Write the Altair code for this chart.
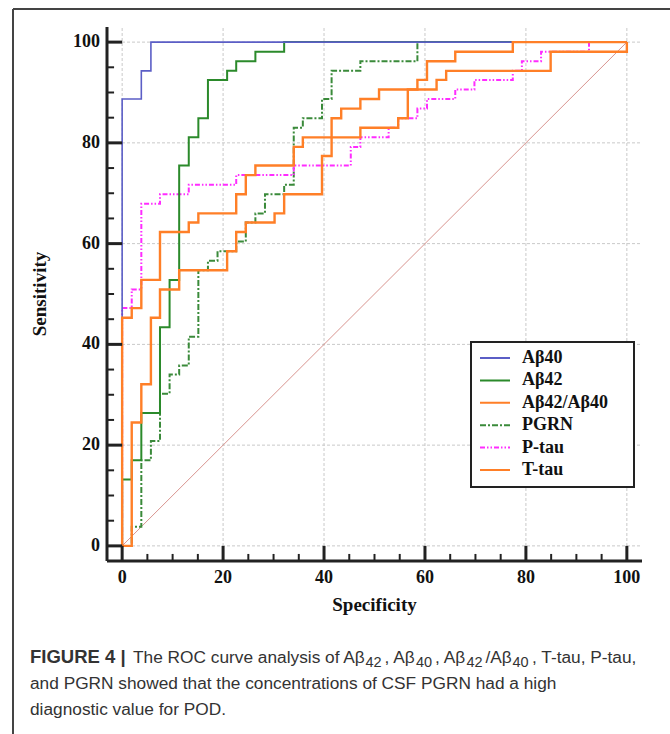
import altair as alt
import pandas as pd

# ---------------- data (corner points of the step ROC curves) ----------------
series_names = ["Aβ40", "Aβ42", "Aβ42/Aβ40", "PGRN", "P-tau", "T-tau"]
series_colors = ["#5b5ec6", "#2b8a2b", "#ff7f27", "#3a8a3a", "#ff2cff", "#ff7f27"]

ab40_spec = [0, 0, 3.8, 5.7, 100]
ab40_sens = [0, 88.7, 94.3, 100, 100]

ab42_spec = [0, 0, 1.9, 3.8, 7.5, 9.4, 11.3, 13.2, 15.1, 17.0, 20.8, 22.6, 26.4, 32.1, 100]
ab42_sens = [0, 13.2, 17.0, 26.4, 43.4, 52.8, 75.5, 81.1, 84.9, 92.5, 94.3, 96.2, 98.1, 100, 100]

ratio_spec = [0, 0, 1.9, 3.8, 7.5, 13.2, 15.1, 22.6, 24.5, 26.4, 34.0, 35.8, 47.2, 54.7,
              56.6, 62.3, 64.2, 84.9, 100]
ratio_sens = [0, 45.3, 47.2, 52.8, 62.3, 64.2, 66.0, 69.8, 73.6, 75.5, 79.2, 81.1, 83.0, 84.9,
              90.6, 92.5, 94.3, 98.1, 100]

pgrn_spec = [0, 1.9, 3.8, 5.7, 7.5, 9.4, 11.3, 13.2, 15.1, 17.0, 18.9, 22.6, 24.5, 26.4,
             28.3, 32.1, 34.0, 35.8, 39.6, 41.5, 47.2, 58.5, 100]
pgrn_sens = [0, 3.8, 17.0, 20.8, 30.2, 34.0, 35.8, 41.5, 54.7, 56.6, 58.5, 60.4, 64.2, 66.0,
             69.8, 71.7, 83.0, 84.9, 88.7, 94.3, 96.2, 100, 100]

ptau_spec = [0, 0, 1.9, 3.8, 7.5, 13.2, 22.6, 34.0, 45.3, 47.2, 52.8, 54.7, 58.5, 60.4,
             66.0, 69.8, 77.4, 79.2, 83.0, 92.5, 100]
ptau_sens = [0, 47.2, 50.9, 67.9, 69.8, 71.7, 73.6, 75.5, 79.2, 81.1, 83.0, 84.9, 86.8, 88.7,
             90.6, 92.5, 94.3, 96.2, 98.1, 100, 100]

ttau_spec = [0, 1.9, 3.8, 5.7, 7.5, 11.3, 20.8, 22.6, 24.5, 30.2, 32.1, 39.6, 41.5, 43.4,
             47.2, 50.9, 58.5, 60.4, 66.0, 77.4, 100]
ttau_sens = [0, 24.5, 32.1, 45.3, 50.9, 54.7, 58.5, 62.3, 64.2, 66.0, 69.8, 77.4, 84.9, 86.8,
             88.7, 90.6, 92.5, 96.2, 98.1, 100, 100]

diag_spec = [0, 100]
diag_sens = [0, 100]

major_ticks = [0, 20, 40, 60, 80, 100]
minor_ticks = [5, 10, 15, 25, 30, 35, 45, 50, 55, 65, 70, 75, 85, 90, 95]
tick_labels = ["0", "20", "40", "60", "80", "100"]

x_title = "Specificity"
y_title = "Sensitivity"

caption_bold = "FIGURE 4 |"
caption_l1_parts = ["The ROC curve analysis of Aβ", "42", ", Aβ", "40", ", Aβ", "42", "/Aβ", "40",
                    ", T-tau, P-tau,"]
caption_l1_is_sub = [False, True, False, True, False, True, False, True, False]
caption_line2 = "and PGRN showed that the concentrations of CSF PGRN had a high"
caption_line3 = "diagnostic value for POD."

# ---------------- helpers ----------------
SERIF = "Liberation Serif"
SANS = "Liberation Sans"
AX = "#222222"
xs = alt.Scale(domain=[-3, 103], nice=False, zero=False)
ys = alt.Scale(domain=[-3, 103], nice=False, zero=False)
one = pd.DataFrame({"a": [0]})


def frame(xv, yv):
    return pd.DataFrame({"x": xv, "y": yv, "i": list(range(len(xv)))})


def curve(xv, yv, color, width, dash=None):
    kw = dict(color=color, strokeWidth=width, interpolate="step-after", clip=False)
    if dash:
        kw["strokeDash"] = dash
    return alt.Chart(frame(xv, yv)).mark_line(**kw).encode(
        x=alt.X("x:Q", scale=xs, axis=None),
        y=alt.Y("y:Q", scale=ys, axis=None),
        order=alt.Order("i:Q"),
    )


ticks_df = pd.DataFrame({"v": major_ticks, "lab": tick_labels})

# grid
grid_v = alt.Chart(ticks_df).mark_rule(color="#c9c9c9", strokeWidth=1, strokeDash=[3, 2]).encode(
    x=alt.X("v:Q", scale=xs, axis=None), y=alt.Y(datum=-3, scale=ys, axis=None), y2=alt.datum(103))
grid_h = alt.Chart(ticks_df).mark_rule(color="#c9c9c9", strokeWidth=1, strokeDash=[3, 2]).encode(
    y=alt.Y("v:Q", scale=ys, axis=None), x=alt.X(datum=-3, scale=xs, axis=None), x2=alt.datum(103))

# diagonal reference line
diag = alt.Chart(frame(diag_spec, diag_sens)).mark_line(color="#d8948f", strokeWidth=1).encode(
    x=alt.X("x:Q", scale=xs, axis=None), y=alt.Y("y:Q", scale=ys, axis=None), order=alt.Order("i:Q"))

pgrn = curve(pgrn_spec, pgrn_sens, series_colors[3], 2, [6, 2, 2, 2])
ptau = curve(ptau_spec, ptau_sens, series_colors[4], 2, [5, 2, 1.5, 2, 1.5, 2])
ab42 = curve(ab42_spec, ab42_sens, series_colors[1], 2)
ab40 = curve(ab40_spec, ab40_sens, series_colors[0], 1.6)
ratio = curve(ratio_spec, ratio_sens, series_colors[2], 2.4)
ttau = curve(ttau_spec, ttau_sens, series_colors[5], 2.4)

# axis lines
x_line = alt.Chart(one).mark_rule(color=AX, strokeWidth=3).encode(
    y=alt.Y(datum=-3, scale=ys, axis=None), x=alt.X(datum=-3, scale=xs, axis=None), x2=alt.datum(103))
y_line = alt.Chart(one).mark_rule(color=AX, strokeWidth=3).encode(
    x=alt.X(datum=-3, scale=xs, axis=None), y=alt.Y(datum=-3, scale=ys, axis=None), y2=alt.datum(103))


# inward ticks
def xticks(vals, top, width):
    return alt.Chart(pd.DataFrame({"v": vals})).mark_rule(color=AX, strokeWidth=width).encode(
        x=alt.X("v:Q", scale=xs, axis=None),
        y=alt.Y(datum=-3, scale=ys, axis=None),
        y2=alt.datum(top),
    )


def yticks(vals, right, width):
    return alt.Chart(pd.DataFrame({"v": vals})).mark_rule(color=AX, strokeWidth=width).encode(
        y=alt.Y("v:Q", scale=ys, axis=None),
        x=alt.X(datum=-3, scale=xs, axis=None),
        x2=alt.datum(right),
    )


xt_major = xticks(major_ticks, 0, 3)
xt_minor = xticks(minor_ticks, -1.6, 2)
yt_major = yticks(major_ticks, 0, 3)
yt_minor = yticks(minor_ticks, -1.6, 2)

# tick labels and titles
lab_style = dict(font=SERIF, fontWeight="bold", fontSize=18, color="#111111")
tt_style = dict(font=SERIF, fontWeight="bold", fontSize=19, color="#111111")
x_labels = alt.Chart(ticks_df).mark_text(align="center", baseline="middle", **lab_style).encode(
    x=alt.X("v:Q", scale=xs, axis=None), y=alt.value(551), text="lab:N")
y_labels = alt.Chart(ticks_df).mark_text(align="right", baseline="middle", **lab_style).encode(
    y=alt.Y("v:Q", scale=ys, axis=None), x=alt.value(-7), text="lab:N")
x_tt = alt.Chart(one).mark_text(align="center", baseline="middle", **tt_style).encode(
    x=alt.X(datum=50, scale=xs, axis=None), y=alt.value(578), text=alt.value(x_title))
y_tt = alt.Chart(one).mark_text(align="center", baseline="middle", angle=270, **tt_style).encode(
    y=alt.Y(datum=50, scale=ys, axis=None), x=alt.value(-67), text=alt.value(y_title))

# manual legend
leg_df = pd.DataFrame({"name": series_names, "row": list(range(len(series_names)))})
dash_range = [[1, 0], [1, 0], [1, 0], [6, 2, 2, 2], [5, 2, 1.5, 2, 1.5, 2], [1, 0]]
leg_box = alt.Chart(one).mark_rect(fill="white", stroke=AX, strokeWidth=2).encode(
    x=alt.value(364), x2=alt.value(527), y=alt.value(315), y2=alt.value(460))
leg_lines = alt.Chart(leg_df).transform_calculate(
    py="331 + datum.row * 22.4"
).mark_rule(strokeWidth=2).encode(
    x=alt.value(373), x2=alt.value(403),
    y=alt.Y("py:Q", scale=None),
    color=alt.Color("name:N", scale=alt.Scale(domain=series_names, range=series_colors), legend=None),
    strokeDash=alt.StrokeDash("name:N", scale=alt.Scale(domain=series_names, range=dash_range), legend=None),
)
leg_text = alt.Chart(leg_df).transform_calculate(
    py="331 + datum.row * 22.4"
).mark_text(
    align="left", baseline="middle", font=SERIF, fontWeight="bold", fontSize=18, color="#111111"
).encode(x=alt.value(415), y=alt.Y("py:Q", scale=None), text="name:N")

# figure frame lines
frame_left = alt.Chart(one).mark_rule(color="#444444", strokeWidth=2).encode(
    x=alt.value(-94), y=alt.value(-18), y2=alt.value(707))
frame_top = alt.Chart(one).mark_rule(color="#444444", strokeWidth=2).encode(
    x=alt.value(-94), x2=alt.value(563), y=alt.value(-18))

# caption
CAP = "#333333"
cap_bold = alt.Chart(one).mark_text(align="left", baseline="alphabetic", font=SANS, fontWeight="bold",
                                    fontSize=18.5, color=CAP).encode(
    x=alt.value(-77), y=alt.value(636), text=alt.value(caption_bold))

# starting x (relative to plot origin) of each segment of caption line 1
seg_x = [26, 258.5, 277.5, 309, 328, 359.5, 378.5, 405.5, 425]
cap1_layers = []
for txt, is_sub, sx in zip(caption_l1_parts, caption_l1_is_sub, seg_x):
    cap1_layers.append(
        alt.Chart(one).mark_text(align="left", baseline="alphabetic", font=SANS,
                                 fontSize=14.5 if is_sub else 17.3, color=CAP).encode(
            x=alt.value(sx), y=alt.value(640 if is_sub else 636), text=alt.value(txt))
    )

cap2 = alt.Chart(one).mark_text(align="left", baseline="alphabetic", font=SANS, fontSize=17.3,
                                color=CAP).encode(
    x=alt.value(-77), y=alt.value(662), text=alt.value(caption_line2))
cap3 = alt.Chart(one).mark_text(align="left", baseline="alphabetic", font=SANS, fontSize=17.3,
                                color=CAP).encode(
    x=alt.value(-77), y=alt.value(688), text=alt.value(caption_line3))

chart = alt.layer(
    grid_v, grid_h, diag, pgrn, ptau, ab42, ab40, ratio, ttau,
    x_line, y_line, xt_major, xt_minor, yt_major, yt_minor,
    x_labels, y_labels, x_tt, y_tt,
    leg_box, leg_lines, leg_text,
    frame_left, frame_top, cap_bold, *cap1_layers, cap2, cap3,
).properties(
    width=535, height=534,
    autosize=alt.AutoSizeParams(type="none"),
    padding={"left": 107, "top": 27, "right": 28, "bottom": 173},
    background="white",
).configure_view(stroke=None)

chart.save("out.html", embed_options={"renderer": "svg", "actions": False})
